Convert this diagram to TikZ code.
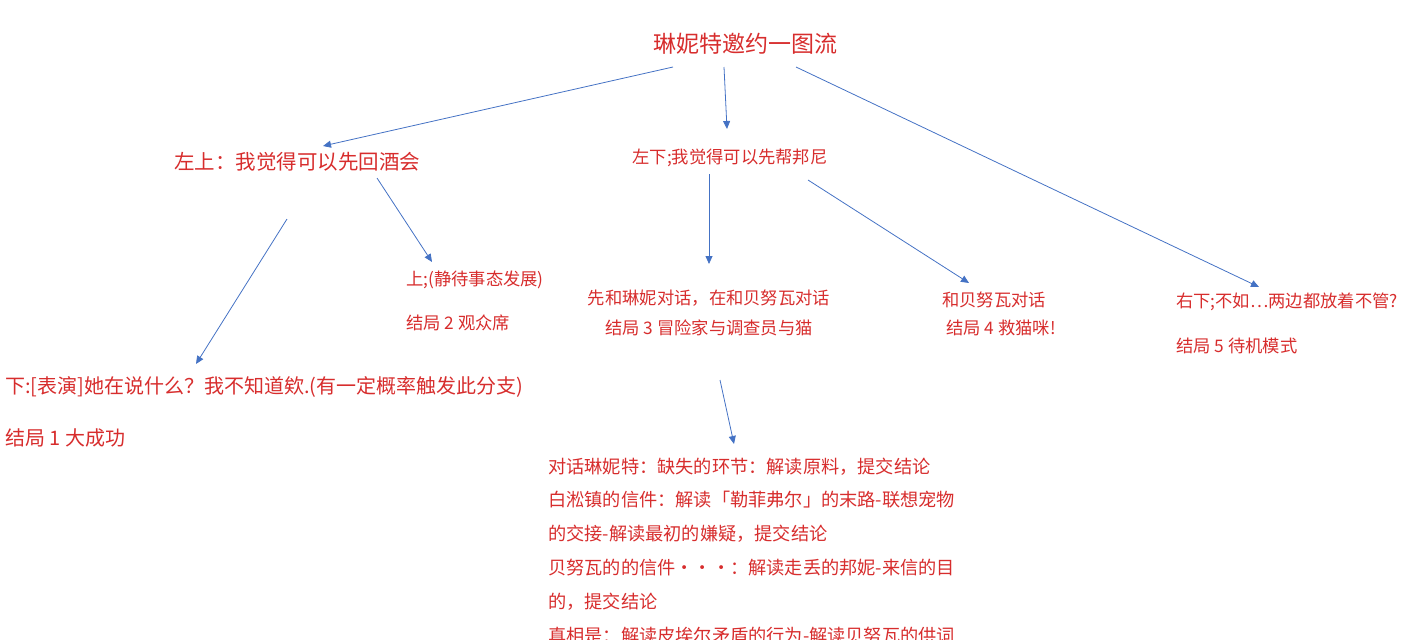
\documentclass[tikz,border=0pt]{standalone}
\usepackage{fontspec}
\setmainfont{Noto Sans CJK SC}
\usetikzlibrary{arrows.meta}
\definecolor{txt}{RGB}{215,45,45}
\definecolor{arr}{RGB}{68,114,196}
\tikzset{
 t/.style={text=txt,inner sep=0pt,font=\fontsize{17.3}{20}\selectfont},
 tl/.style={t,anchor=west},
 fb/.style={tl,font=\fontsize{18.2}{22}\selectfont},
 con/.style={draw=arr,line width=0.8pt,-{Triangle[length=8pt,width=7pt]}}
}
\begin{document}
\begin{tikzpicture}[x=1pt,y=-1pt]
\useasboundingbox (0,0) rectangle (1422,640);
\clip (0,0) rectangle (1422,640);
\node[t,font=\fontsize{23}{27}\selectfont] (title) at (745,44) {琳妮特邀约一图流};
\node[t,font=\fontsize{20.5}{24}\selectfont] (n1) at (297,162) {左上：我觉得可以先回酒会};
\node[t] (n2) at (730,158) {左下;我觉得可以先帮邦尼};
\node[tl] (a1) at (406,280) {上;(静待事态发展)};
\node[tl] (a2) at (406,323) {结局 2 观众席};
\node[t] (b1) at (709,298) {先和琳妮对话，在和贝努瓦对话};
\node[t] (b2) at (709,328) {结局 3 冒险家与调查员与猫};
\node[tl] (c1) at (942,300) {和贝努瓦对话};
\node[tl] (c2) at (946,328) {结局 4 救猫咪!};
\node[tl] (d1) at (1176,302) {右下;不如…两边都放着不管?};
\node[tl] (d2) at (1176,346) {结局 5 待机模式};
\node[tl,font=\fontsize{20}{24}\selectfont] (e1) at (5,387) {下:[表演]她在说什么？我不知道欸.(有一定概率触发此分支)};
\node[tl,font=\fontsize{20}{24}\selectfont] (e2) at (5,438) {结局 1 大成功};
\node[fb] (f1) at (548,467) {对话琳妮特：缺失的环节：解读原料，提交结论};
\node[fb] (f2) at (548,500) {白淞镇的信件：解读「勒菲弗尔」的末路-联想宠物};
\node[fb] (f3) at (548,534) {的交接-解读最初的嫌疑，提交结论};
\node[fb] (f4) at (548,568) {贝努瓦的的信件···：解读走丢的邦妮-来信的目};
\node[fb] (f5) at (548,602) {的，提交结论};
\node[fb] (f6) at (548,636) {真相是：解读皮埃尔矛盾的行为-解读贝努瓦的供词};
\coordinate (s1) at (673,67); \coordinate (e1t) at (323,146);
\coordinate (s2) at (724,67); \coordinate (e2t) at (727,129);
\coordinate (s3) at (796,67); \coordinate (e3t) at (1259,287);
\coordinate (s4) at (287,219); \coordinate (e4t) at (196,364);
\coordinate (s5) at (377,178); \coordinate (e5t) at (432,262);
\coordinate (s6) at (709,174); \coordinate (e6t) at (709,264);
\coordinate (s7) at (808,180); \coordinate (e7t) at (969,283);
\coordinate (s8) at (720,380); \coordinate (e8t) at (734,444);
\foreach \i in {1,...,8} \draw[con] (s\i) -- (e\i t);
\end{tikzpicture}
\end{document}
